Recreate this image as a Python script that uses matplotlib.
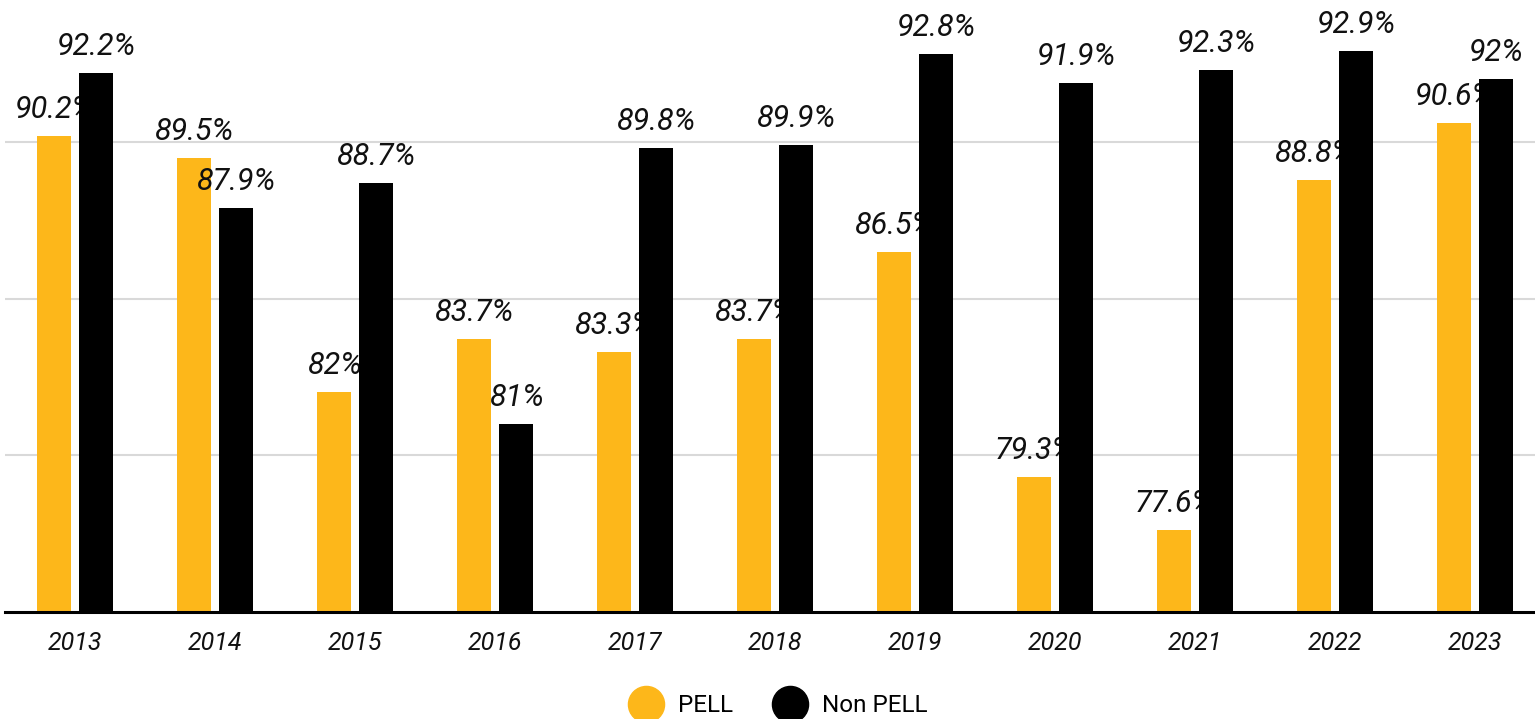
import numpy as np
import matplotlib.pyplot as plt
from matplotlib.lines import Line2D

plt.rcParams['font.family'] = ['Roboto', 'DejaVu Sans']

# Graduation rates by cohort year
years = ['2013', '2014', '2015', '2016', '2017', '2018', '2019', '2020', '2021', '2022', '2023']
pell = [90.2, 89.5, 82, 83.7, 83.3, 83.7, 86.5, 79.3, 77.6, 88.8, 90.6]
non_pell = [92.2, 87.9, 88.7, 81, 89.8, 89.9, 92.8, 91.9, 92.3, 92.9, 92]

pell_color = '#FDB71A'
non_pell_color = '#000000'

fig = plt.figure(figsize=(15.35, 7.19), dpi=100)
ax = fig.add_axes([5 / 1535, 1 - 611.5 / 719, 1540 / 1535, 611.5 / 719])

x = np.arange(len(years))
w = 0.243
off = 0.15

b1 = ax.bar(x - off, pell, w, color=pell_color, zorder=2)
b2 = ax.bar(x + off, non_pell, w, color=non_pell_color, zorder=4)

# value labels sit above each bar; the black bars may cover yellow labels
for bars, vals, z in [(b1, pell, 3), (b2, non_pell, 5)]:
    for rect, v in zip(bars, vals):
        ax.annotate(f'{v:g}%', (rect.get_x() + rect.get_width() / 2, v),
                    xytext=(0, 13), textcoords='offset points',
                    ha='center', va='baseline', fontsize=22,
                    fontstyle='italic', color='#111111', zorder=z)

ax.set_ylim(75, 94.54)
ax.set_xlim(-0.5, len(years) - 0.5)
ax.set_yticks([80, 85, 90])
ax.yaxis.grid(True, color='#d9d9d9', linewidth=1.5, zorder=0)
ax.set_axisbelow(True)
ax.tick_params(axis='y', left=False, labelleft=False)
ax.tick_params(axis='x', length=0, pad=14)
ax.set_xticks(x)
ax.set_xticklabels(years, fontsize=18, fontstyle='italic', color='#111111')

for s in ['top', 'right', 'left']:
    ax.spines[s].set_visible(False)
ax.spines['bottom'].set_linewidth(2.2)
ax.spines['bottom'].set_zorder(6)

handles = [
    Line2D([], [], marker='o', linestyle='none', markersize=26,
           markerfacecolor=pell_color, markeredgecolor=pell_color, label='PELL'),
    Line2D([], [], marker='o', linestyle='none', markersize=26,
           markerfacecolor=non_pell_color, markeredgecolor=non_pell_color, label='Non PELL'),
]
fig.legend(handles=handles, loc='center', bbox_to_anchor=(0.5078, 1 - 706 / 719),
           ncol=2, frameon=False, fontsize=17.5, handletextpad=0.7,
           columnspacing=1.75, handlelength=1.2)

fig.savefig('out.png', dpi=100)
